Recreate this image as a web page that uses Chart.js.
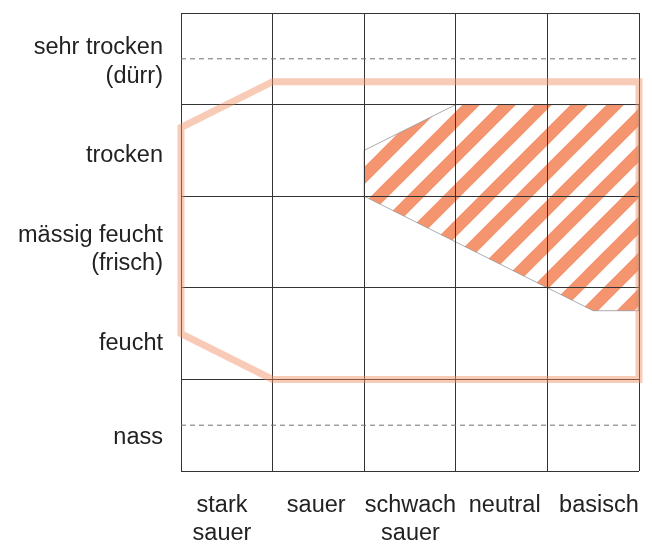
<!DOCTYPE html>
<html>
<head>
<meta charset="utf-8">
<script src="https://cdn.jsdelivr.net/npm/chart.js@4"></script>
<style>
  body { margin: 0; background: #fff; }
  #wrap { width: 652px; height: 545px; }
</style>
</head>
<body>
<div id="wrap"><canvas id="ecogram"></canvas></div>
<script>
// Category labels
const moistureLabels = [['sehr trocken', '(dürr)'], 'trocken', ['mässig feucht', '(frisch)'], 'feucht', 'nass'];
const acidityLabels = [['stark', 'sauer'], 'sauer', ['schwach', 'sauer'], 'neutral', 'basisch'];

// Polygons in grid units: x = acidity column (0..5 left to right), y = moisture (0 bottom .. 5 top)
const rangeX = [3, 5, 5, 1, 0, 0, 1, 3];
const rangeY = [4.25, 4.25, 1, 1, 1.5, 3.75, 4.25, 4.25];
const optimumX = [2, 3, 5, 5, 4.5, 2, 2];
const optimumY = [3.5, 4, 4, 1.75, 1.75, 3, 3.5];

// Dashed helper lines in the outer rows
const dashedY = [4.5, 0.5];

const toPoints = (xs, ys) => xs.map((x, i) => ({ x: x, y: ys[i] }));

// diagonal stripe pattern for the optimum area
function stripePattern() {
    const size = 36;
    const c = document.createElement('canvas');
    c.width = c.height = size;
    const g = c.getContext('2d');
    g.strokeStyle = '#f4956f';
    g.lineWidth = 12.5;
    g.beginPath();
    [0, size, size * 2].forEach(k => {
        g.moveTo(k + 10, -10);
        g.lineTo(-10, k + 10);
    });
    g.stroke();
    return g.createPattern(c, 'repeat');
}

// grid lines sit on top of the hatched area, below the outline
const gridOverHatch = {
    id: 'gridOverHatch',
    afterDatasetDraw(chart, args) {
        if (args.index !== 1) return;
        chart.scales.x.drawGrid(chart.chartArea);
        chart.scales.y.drawGrid(chart.chartArea);
    }
};

Chart.defaults.font.family = '"Liberation Sans", Arial, sans-serif';
Chart.defaults.font.size = 23.5;
Chart.defaults.color = '#222';

const ctx = document.getElementById('ecogram').getContext('2d');
const datasets = [
    {
        // outer range
        data: toPoints(rangeX, rangeY),
        showLine: true,
        borderColor: 'rgba(240, 140, 95, 0.45)',
        borderWidth: 7,
        borderJoinStyle: 'miter',
        pointRadius: 0,
        fill: false,
        clip: false,
        order: 1
    },
    {
        // optimum
        data: toPoints(optimumX, optimumY),
        showLine: true,
        borderColor: 'rgba(150, 150, 150, 0.8)',
        borderWidth: 1,
        backgroundColor: stripePattern(),
        fill: 'shape',
        pointRadius: 0,
        order: 3
    }
];
dashedY.forEach(y => {
    datasets.push({
        data: [{ x: 0, y: y }, { x: 5, y: y }],
        showLine: true,
        borderColor: '#707070',
        borderWidth: 1,
        borderDash: [5, 4],
        pointRadius: 0,
        order: 2
    });
});

new Chart(ctx, {
    type: 'scatter',
    data: { datasets: datasets },
    plugins: [gridOverHatch],
    options: {
        responsive: true,
        maintainAspectRatio: false,
        animation: false,
        layout: { padding: { top: 13, right: 13, left: 0, bottom: 0 } },
        plugins: { legend: { display: false }, tooltip: { enabled: false } },
        scales: {
            x: {
                type: 'linear', min: 0, max: 5, weight: 0,
                ticks: { display: false, stepSize: 1 },
                grid: { color: '#333', drawTicks: false },
                border: { display: false },
                afterFit: s => { s.height = 0; }
            },
            y: {
                type: 'linear', min: 0, max: 5, weight: 0,
                ticks: { display: false, stepSize: 1 },
                grid: { color: '#333', drawTicks: false },
                border: { display: false },
                afterFit: s => { s.width = 0; }
            },
            xLab: {
                type: 'linear', position: 'bottom', weight: 1, bounds: 'data',
                min: -0.435, max: 4.425,
                afterBuildTicks: s => { s.ticks = acidityLabels.map((_, i) => ({ value: i })); },
                ticks: { padding: 20, maxRotation: 0, autoSkip: false, callback: v => acidityLabels[v] },
                grid: { display: false, drawTicks: false },
                border: { display: false },
                afterFit: s => { s.height = 74; s.paddingLeft = 0; s.paddingRight = 0; }
            },
            yLab: {
                type: 'linear', position: 'left', weight: 1, bounds: 'data', reverse: true,
                min: -0.523, max: 4.362,
                afterBuildTicks: s => { s.ticks = moistureLabels.map((_, i) => ({ value: i })); },
                ticks: { padding: 18, autoSkip: false, callback: v => moistureLabels[v] },
                grid: { display: false, drawTicks: false },
                border: { display: false },
                afterFit: s => { s.width = 181; s.paddingTop = 0; s.paddingBottom = 0; }
            }
        }
    }
});
</script>
</body>
</html>
